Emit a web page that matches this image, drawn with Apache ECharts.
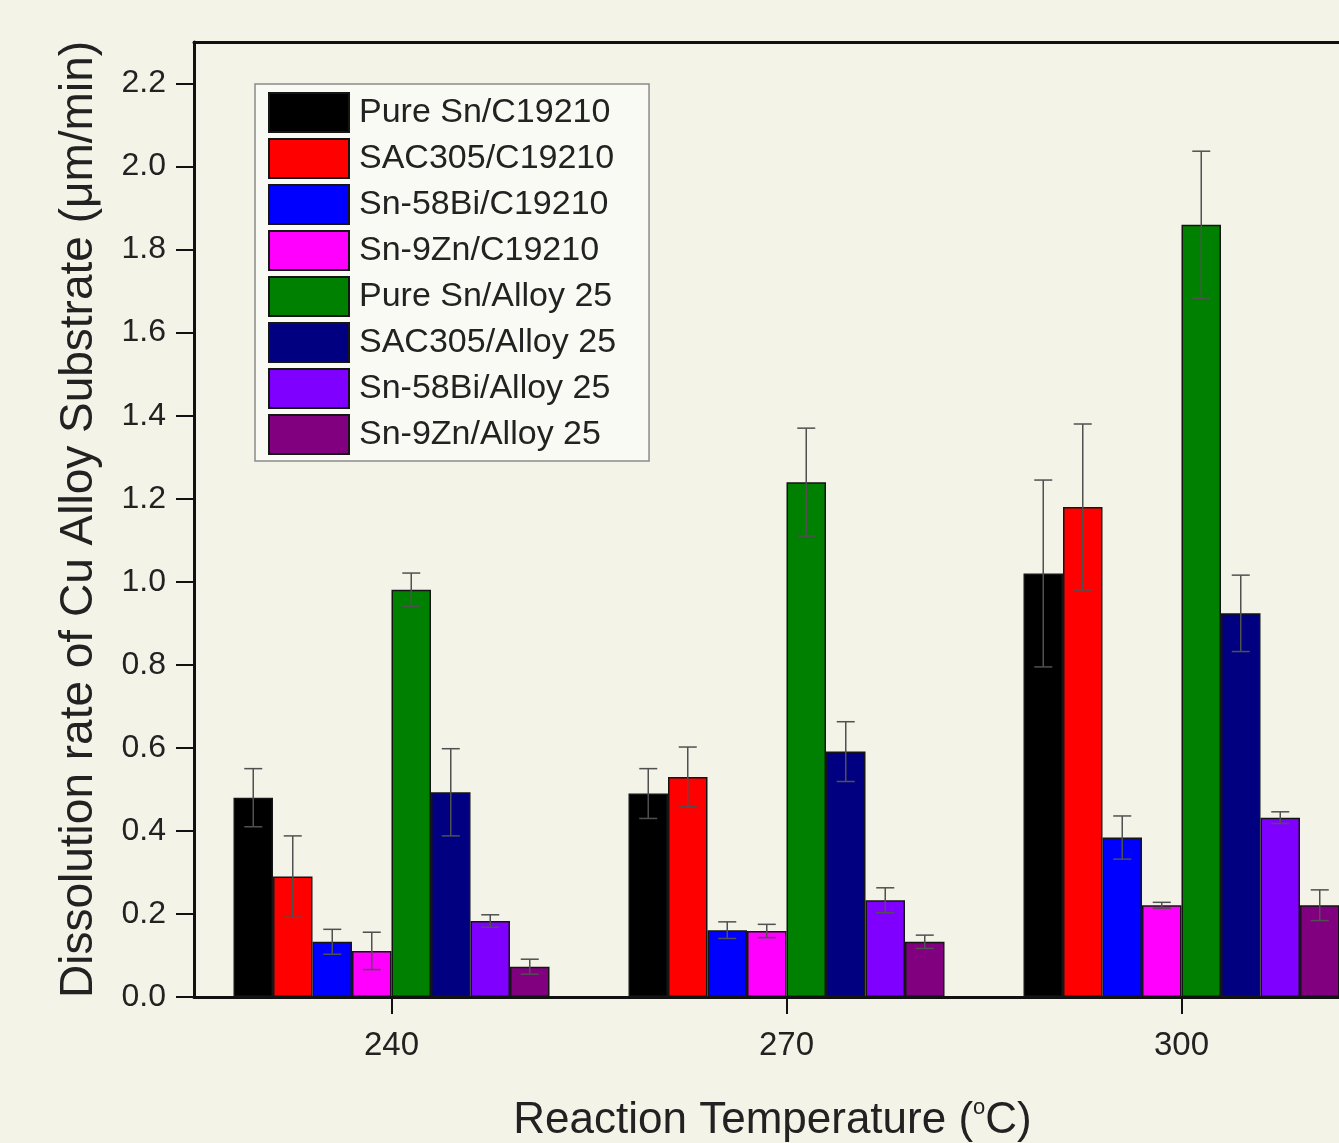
<!DOCTYPE html>
<html>
<head>
<meta charset="utf-8">
<script src="https://cdn.jsdelivr.net/npm/echarts@6/dist/echarts.min.js"></script>
<style>
  html, body { margin: 0; padding: 0; background: #f3f3e7; overflow: hidden; }
  #chart { width: 1339px; height: 1143px; }
</style>
</head>
<body>
<div id="chart"></div>
<script>
// reaction temperatures (°C)
const temps = ['240', '270', '300']
const yTicks = [0, 0.2, 0.4, 0.6, 0.8, 1.0, 1.2, 1.4, 1.6, 1.8, 2.0, 2.2]

const seriesNames = [
  'Pure Sn/C19210', 'SAC305/C19210', 'Sn-58Bi/C19210', 'Sn-9Zn/C19210',
  'Pure Sn/Alloy 25', 'SAC305/Alloy 25', 'Sn-58Bi/Alloy 25', 'Sn-9Zn/Alloy 25'
]
const seriesColors = ['#000000', '#ff0000', '#0000ff', '#ff00ff', '#008000', '#000080', '#8000ff', '#800080']

// dissolution rate (um/min) and error per temperature
const pureSnC19210 = [0.48, 0.49, 1.02]
const pureSnC19210Err = [0.07, 0.06, 0.225]
const sac305C19210 = [0.29, 0.53, 1.18]
const sac305C19210Err = [0.098, 0.072, 0.2]
const snBiC19210 = [0.133, 0.161, 0.384]
const snBiC19210Err = [0.03, 0.02, 0.052]
const snZnC19210 = [0.111, 0.159, 0.221]
const snZnC19210Err = [0.045, 0.016, 0.007]
const pureSnAlloy25 = [0.981, 1.24, 1.86]
const pureSnAlloy25Err = [0.04, 0.13, 0.177]
const sac305Alloy25 = [0.493, 0.591, 0.924]
const sac305Alloy25Err = [0.105, 0.072, 0.092]
const snBiAlloy25 = [0.183, 0.233, 0.432]
const snBiAlloy25Err = [0.015, 0.03, 0.014]
const snZnAlloy25 = [0.073, 0.133, 0.221]
const snZnAlloy25Err = [0.018, 0.016, 0.037]

const values = [pureSnC19210, sac305C19210, snBiC19210, snZnC19210,
  pureSnAlloy25, sac305Alloy25, snBiAlloy25, snZnAlloy25]
const errors = [pureSnC19210Err, sac305C19210Err, snBiC19210Err, snZnC19210Err,
  pureSnAlloy25Err, sac305Alloy25Err, snBiAlloy25Err, snZnAlloy25Err]

const font = '"Liberation Sans", Arial, sans-serif'
const gapRatio = 0.2

// rows: [category index, series index, value, error]
let errRows = []
values.forEach((vals, s) => {
  vals.forEach((v, c) => errRows.push([c, s, v, errors[s][c]]))
})

let barSeries = seriesNames.map((name, i) => ({
  name: name,
  type: 'bar',
  data: values[i],
  barGap: '0%',
  barCategoryGap: (gapRatio * 100) + '%',
  itemStyle: { color: seriesColors[i], borderColor: '#151515', borderWidth: 1.5 },
  emphasis: { disabled: true }
}))

let errorSeries = {
  type: 'custom',
  name: 'error',
  data: errRows,
  encode: { x: 0, y: 2 },
  z: 10,
  silent: true,
  renderItem: function (params, api) {
    let c = api.value(0), s = api.value(1), v = api.value(2), e = api.value(3)
    let band = api.size([1, 0])[0]
    let bw = band * (1 - gapRatio) / seriesNames.length
    let center = api.coord([c, v])[0]
    let x = center - band * (1 - gapRatio) / 2 + bw * (s + 0.5)
    let yTop = api.coord([c, v + e])[1]
    let yBot = api.coord([c, v - e])[1]
    let cap = 9
    let style = { stroke: '#505050', lineWidth: 1.5 }
    return {
      type: 'group',
      children: [
        { type: 'line', shape: { x1: x, y1: yTop, x2: x, y2: yBot }, style: style },
        { type: 'line', shape: { x1: x - cap, y1: yTop, x2: x + cap, y2: yTop }, style: style },
        { type: 'line', shape: { x1: x - cap, y1: yBot, x2: x + cap, y2: yBot }, style: style }
      ]
    }
  }
}

let chart = echarts.init(document.getElementById('chart'))
chart.setOption({
  backgroundColor: '#f3f3e7',
  animation: false,
  textStyle: { fontFamily: font },
  // plot runs past the right edge of the picture, as in the source figure
  grid: { left: 194, top: 42, width: 1185, height: 955, containLabel: false, outerBoundsMode: 'none' },
  legend: {
    data: seriesNames,
    orient: 'vertical',
    left: 255,
    top: 84,
    icon: 'rect',
    itemWidth: 80,
    itemHeight: 39,
    itemGap: 5,
    padding: [8, 33, 6, 13],
    backgroundColor: '#fafaf5',
    borderColor: '#8a8a8a',
    borderWidth: 1.5,
    selectedMode: false,
    textStyle: { fontFamily: font, fontSize: 34, color: '#222', padding: [0, 0, 0, 5] }
  },
  xAxis: [{
    type: 'category',
    data: temps,
    name: 'Reaction Temperature ({sup|o}C)',
    nameLocation: 'middle',
    nameGap: 100,
    nameTextStyle: {
      fontFamily: font, fontSize: 44, color: '#222', padding: [0, 28, 0, 0],
      rich: { sup: { fontFamily: font, fontSize: 22, color: '#222', verticalAlign: 'top', padding: [0, 0, 26, 0] } }
    },
    axisLine: { lineStyle: { color: '#111', width: 3 } },
    axisTick: { show: true, alignWithLabel: true, length: 17, lineStyle: { color: '#111', width: 2 } },
    axisLabel: { fontFamily: font, fontSize: 33, color: '#222', margin: 32 }
  }, {
    type: 'category',
    data: temps,
    position: 'top',
    axisLine: { lineStyle: { color: '#111', width: 3 } },
    axisTick: { show: false },
    axisLabel: { show: false }
  }],
  yAxis: {
    type: 'value',
    min: 0,
    max: 2.3,
    interval: 0.2,
    name: 'Dissolution rate of Cu Alloy Substrate (\u03bcm/min)',
    nameLocation: 'middle',
    nameGap: 92,
    nameTextStyle: { fontFamily: font, fontSize: 46, color: '#222' },
    axisLine: { show: true, lineStyle: { color: '#111', width: 3 } },
    axisTick: { show: true, length: 18, customValues: yTicks, lineStyle: { color: '#111', width: 2 } },
    axisLabel: {
      fontFamily: font, fontSize: 32, color: '#222', margin: 28,
      customValues: yTicks,
      formatter: v => v.toFixed(1)
    },
    splitLine: { show: false }
  },
  series: barSeries.concat([errorSeries])
})
</script>
</body>
</html>
